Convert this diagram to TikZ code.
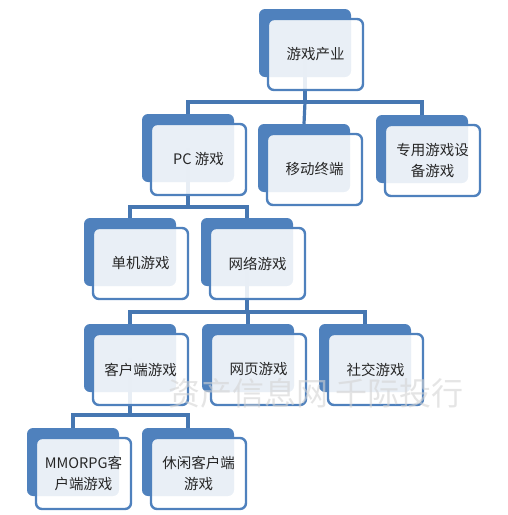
\documentclass[tikz,border=0pt]{standalone}
\usepackage{fontspec}
\setmainfont{Noto Sans CJK SC}
\newfontfamily\cjk{Noto Sans CJK SC}
\definecolor{gblue}{HTML}{4F81BD}
\definecolor{gline}{HTML}{4677B2}
\definecolor{gtext}{HTML}{262626}
\definecolor{wmark}{HTML}{D4D4D4}
\tikzset{
  backbox/.style={fill=gblue, rounded corners=6pt, minimum width=92pt, minimum height=68pt, inner sep=0pt},
  frontbox/.style={draw=gblue, line width=2.4pt, fill=white, fill opacity=0.88, text opacity=1,
    rounded corners=6pt, minimum width=95pt, minimum height=71pt, inner sep=0pt,
    font=\cjk\fontsize{14.5}{21.5}\selectfont, text=gtext, align=center},
  conn/.style={draw=gline, line width=3.2pt},
}
\begin{document}
\begin{tikzpicture}[x=1pt,y=-1pt]
\useasboundingbox (0,0) rectangle (508,515);
% back boxes (back top-left + (46,34))
\node[backbox] (b0) at (259+46,9+34) {};
\node[backbox] (b1) at (142+46,114+34) {};
\node[backbox] (b2) at (258+46,124+34) {};
\node[backbox] (b3) at (376+46,115+34) {};
\node[backbox] (b4) at (84+46,218+34) {};
\node[backbox] (b5) at (201+46,218+34) {};
\node[backbox] (b6) at (84+46,324+34) {};
\node[backbox] (b7) at (202+46,324+34) {};
\node[backbox] (b8) at (319+46,324+34) {};
\node[backbox] (b9) at (27+46,428+34) {};
\node[backbox] (b10) at (142+46,428+34) {};
% junctions
\coordinate (j0) at (305,102);
\coordinate (j1) at (188,207);
\coordinate (j2) at (247,312);
\coordinate (j3) at (130,415);
% connectors
\draw[conn] (b0.center) -- (b0.center |- j0);
\draw[conn] (b1.north) |- (j0) -| (b3.north);
\draw[conn] (j0) -- (b2.north);
\draw[conn] (b1.center) -- (b1.center |- j1);
\draw[conn] (b4.north) |- (j1) -| (b5.north);
\draw[conn] (b5.center) -- (b5.center |- j2);
\draw[conn] (b6.north) |- (j2) -| (b8.north);
\draw[conn] (j2 -| b7.north) -- (b7.north);
\draw[conn] (b6.center) -- (b6.center |- j3);
\draw[conn] (b9.north) |- (j3) -| (b10.north);
% front boxes (offset +10.5,+11.5)
\node[frontbox] (f0) at (259+56.5,9+45.5) {游戏产业};
\node[frontbox] (f1) at (142+56.5,114+45.5) {PC 游戏};
\node[frontbox] (f2) at (258+56.5,124+45.5) {移动终端};
\node[frontbox] (f3) at (376+56.5,115+45.5) {专用游戏设\\备游戏};
\node[frontbox] (f4) at (84+56.5,218+45.5) {单机游戏};
\node[frontbox] (f5) at (201+56.5,218+45.5) {网络游戏};
\node[frontbox] (f6) at (84+56.5,324+45.5) {客户端游戏};
\node[frontbox] (f7) at (202+56.5,324+45.5) {网页游戏};
\node[frontbox] (f8) at (319+56.5,324+45.5) {社交游戏};
\node[frontbox] (f9) at (27+56.5,428+45.5) {MMORPG客\\户端游戏};
\node[frontbox] (f10) at (142+56.5,428+45.5) {休闲客户端\\游戏};
% watermark
\node[text=wmark, text opacity=0.6, font=\cjk\fontsize{32}{32}\selectfont, inner sep=0pt, anchor=west] (wm) at (168,393) {资产信息网 千际投行};
\end{tikzpicture}
\end{document}
